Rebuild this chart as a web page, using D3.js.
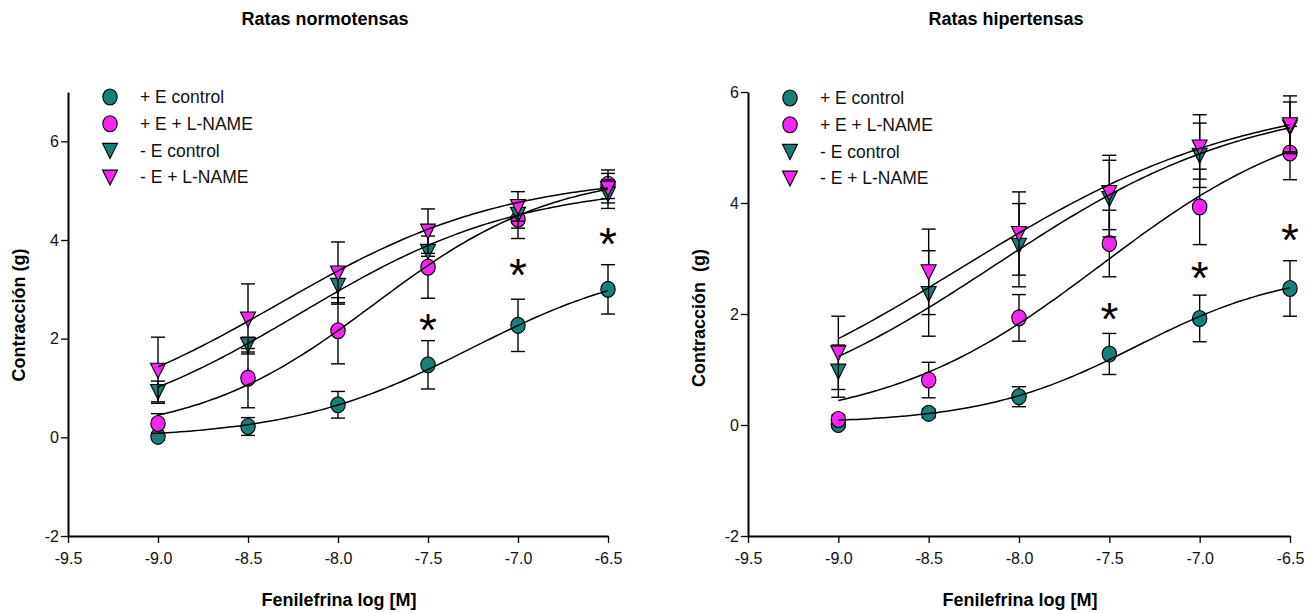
<!DOCTYPE html>
<html><head><meta charset="utf-8">
<script src="https://cdn.jsdelivr.net/npm/d3@7"></script>
<style>body{margin:0;background:#fff}svg{display:block}</style>
</head><body><svg id="c" width="1314" height="613"></svg>
<script>
// ---------------- data ----------------
const doses = [-9.0, -8.5, -8.0, -7.5, -7.0, -6.5];
const seriesNames = ["+ E control", "+ E + L-NAME", "- E control", "- E + L-NAME"];
const xTicks = [-9.5, -9.0, -8.5, -8.0, -7.5, -7.0, -6.5];
const yTicks = [-2, 0, 2, 4, 6];

// Ratas normotensas (means, SEM)
const normEC     = [0.02, 0.22, 0.66, 1.47, 2.27, 3.00];
const normEC_e   = [0.06, 0.18, 0.27, 0.49, 0.53, 0.50];
const normEL     = [0.28, 1.20, 2.16, 3.45, 4.42, 5.13];
const normEL_e   = [0.20, 0.60, 0.67, 0.63, 0.39, 0.29];
const normSC     = [0.93, 1.88, 3.08, 3.77, 4.52, 4.93];
const normSC_e   = [0.21, 0.15, 0.35, 0.10, 0.28, 0.29];
const normSL     = [1.36, 2.40, 3.33, 4.18, 4.68, 5.05];
const normSL_e   = [0.67, 0.71, 0.63, 0.45, 0.30, 0.30];
// fitted-curve values read at each dose
const normFitEC  = [0.07, 0.27, 0.66, 1.36, 2.28, 2.97];
const normFitEL  = [0.44, 1.09, 2.14, 3.50, 4.49, 5.03];
const normFitSC  = [1.02, 1.90, 2.96, 3.90, 4.49, 4.85];
const normFitSL  = [1.43, 2.35, 3.37, 4.24, 4.73, 5.07];
const normStarDoses = [-7.5, -7.0, -6.5];
const normStarY     = [2.38, 3.50, 4.13];

// Ratas hipertensas (means, SEM)
const hipEC     = [0.01, 0.21, 0.51, 1.28, 1.92, 2.46];
const hipEC_e   = [0.05, 0.08, 0.18, 0.37, 0.42, 0.50];
const hipEL     = [0.10, 0.81, 1.93, 3.27, 3.93, 4.90];
const hipEL_e   = [0.08, 0.32, 0.42, 0.60, 0.68, 0.48];
const hipSC     = [0.97, 2.37, 3.24, 4.08, 4.86, 5.37];
const hipSC_e   = [0.47, 0.77, 0.75, 0.69, 0.58, 0.45];
const hipSL     = [1.30, 2.76, 3.45, 4.19, 5.01, 5.41];
const hipSL_e   = [0.66, 0.77, 0.75, 0.67, 0.58, 0.52];
// fitted-curve values read at each dose
const hipFitEC  = [0.09, 0.21, 0.51, 1.20, 1.94, 2.48];
const hipFitEL  = [0.45, 0.93, 1.86, 2.97, 4.14, 4.93];
const hipFitSC  = [1.24, 2.10, 3.18, 4.14, 4.88, 5.36];
const hipFitSL  = [1.56, 2.46, 3.48, 4.32, 4.98, 5.41];
const hipStarDoses = [-7.5, -7.0, -6.5];
const hipStarY     = [2.09, 2.83, 3.51];

// ---------------- styles ----------------
const TEAL = "#167f78", MAG = "#f327f0";
const seriesStyle = [
  {shape: "circle", color: TEAL},
  {shape: "circle", color: MAG},
  {shape: "tri", color: TEAL},
  {shape: "tri", color: MAG}
];
const FONT = "Liberation Sans, Arial, sans-serif";

// ---------------- 4PL smoothing fit (Nelder–Mead) ----------------
function logistic(p, x) { return p[0] + (p[1] - p[0]) / (1 + Math.pow(10, (p[2] - x) * p[3])); }
function nelderMead(f, x0, steps, iters) {
  const n = x0.length;
  let S = [x0.slice()];
  for (let i = 0; i < n; i++) { const p = x0.slice(); p[i] += steps[i]; S.push(p); }
  let F = S.map(f);
  for (let k = 0; k < iters; k++) {
    const idx = d3.range(n + 1).sort((a, b) => F[a] - F[b]);
    S = idx.map(i => S[i]); F = idx.map(i => F[i]);
    const c = d3.range(n).map(j => d3.mean(S.slice(0, n), p => p[j]));
    const w = S[n];
    const xr = c.map((v, j) => v + (v - w[j])); const fr = f(xr);
    if (fr < F[0]) {
      const xe = c.map((v, j) => v + 2 * (v - w[j])); const fe = f(xe);
      if (fe < fr) { S[n] = xe; F[n] = fe; } else { S[n] = xr; F[n] = fr; }
    } else if (fr < F[n - 1]) { S[n] = xr; F[n] = fr; }
    else {
      const xc = c.map((v, j) => v + 0.5 * (w[j] - v)); const fc = f(xc);
      if (fc < F[n]) { S[n] = xc; F[n] = fc; }
      else {
        for (let i = 1; i <= n; i++) { S[i] = S[i].map((v, j) => S[0][j] + 0.5 * (v - S[0][j])); F[i] = f(S[i]); }
      }
    }
  }
  return S[d3.minIndex(F)];
}
function fit(ys) {
  const sse = p => {
    if (p[3] <= 0.05 || p[3] > 5) return 1e9;
    return d3.sum(doses, (x, i) => (logistic(p, x) - ys[i]) ** 2);
  };
  let p = [d3.min(ys) - 0.1, d3.max(ys) + 0.5, -7.75, 0.8];
  for (let r = 0; r < 4; r++) p = nelderMead(sse, p, [0.3, 0.5, 0.3, 0.2], 1500);
  return p;
}

// ---------------- drawing ----------------
const svg = d3.select("#c");
svg.append("rect").attr("width", 1314).attr("height", 613).attr("fill", "#fff");

function drawMarker(g, st, cx, cy) {
  if (st.shape === "circle") {
    g.append("ellipse").attr("cx", cx).attr("cy", cy).attr("rx", 7.2).attr("ry", 8)
      .attr("fill", st.color).attr("stroke", "#000").attr("stroke-width", 1.1);
  } else {
    g.append("path").attr("d", `M${cx - 7.5},${cy - 7}L${cx + 7.5},${cy - 7}L${cx},${cy + 8}Z`)
      .attr("fill", st.color).attr("stroke", "#000").attr("stroke-width", 1.1);
  }
}

function panel(cfg) {
  const x = d3.scaleLinear().domain([-9.5, -6.5]).range([cfg.x0, cfg.x1]);
  const y = d3.scaleLinear().domain([-2, cfg.yMax]).range([536, 92]);
  const g = svg.append("g");

  const ax = g.append("g").attr("transform", "translate(0,536)")
    .call(d3.axisBottom(x).tickValues(xTicks).tickSize(7).tickSizeOuter(0).tickFormat(d => d.toFixed(1)));
  const ay = g.append("g").attr("transform", `translate(${cfg.x0},0)`)
    .call(d3.axisLeft(y).tickValues(yTicks).tickSize(7).tickSizeOuter(0).tickFormat(d => String(d)));
  [ax, ay].forEach(a => {
    a.select(".domain").attr("stroke", "#000").attr("stroke-width", 2);
    a.selectAll(".tick line").attr("stroke", "#000").attr("stroke-width", 1.3);
    a.selectAll(".tick text").attr("fill", "#111").attr("font-family", FONT).attr("font-size", 16);
  });
  ax.selectAll(".tick text").attr("dy", "1.15em");
  ay.selectAll(".tick text").attr("x", -9);

  g.append("text").attr("x", cfg.titleX).attr("y", 25).attr("text-anchor", "middle")
    .attr("font-family", FONT).attr("font-weight", "bold").attr("font-size", 18).text(cfg.title);
  g.append("text").attr("x", (cfg.x0 + cfg.x1) / 2 + 1).attr("y", 606).attr("text-anchor", "middle")
    .attr("font-family", FONT).attr("font-weight", "bold").attr("font-size", 18).text("Fenilefrina log [M]");
  g.append("text").attr("transform", `translate(${cfg.x0 - 43},${cfg.ylabY}) rotate(-90)`).attr("text-anchor", "middle")
    .attr("font-family", FONT).attr("font-weight", "bold").attr("font-size", 18).attr("xml:space", "preserve").text(cfg.ylab);

  cfg.series.forEach((s, si) => {
    const st = seriesStyle[si];
    const sg = g.append("g");
    doses.forEach((d, i) => {
      const cx = x(d), top = y(s.v[i] + s.e[i]), bot = y(s.v[i] - s.e[i]);
      sg.append("line").attr("x1", cx).attr("x2", cx).attr("y1", top).attr("y2", bot).attr("stroke", "#000").attr("stroke-width", 1.4);
      [top, bot].forEach(yy => sg.append("line").attr("x1", cx - 7).attr("x2", cx + 7).attr("y1", yy).attr("y2", yy).attr("stroke", "#000").attr("stroke-width", 1.4));
    });
    doses.forEach((d, i) => drawMarker(sg, st, x(d), y(s.v[i])));
  });

  const xs = d3.range(0, 101).map(k => -9.0 + 2.5 * k / 100);
  cfg.series.forEach(s => {
    const p = fit(s.f);
    g.append("path").datum(xs).attr("fill", "none").attr("stroke", "#000").attr("stroke-width", 1.5)
      .attr("d", d3.line().x(d => x(d)).y(d => y(logistic(p, d))));
  });

  cfg.starDoses.forEach((d, i) => {
    g.append("text").attr("x", x(d)).attr("y", y(cfg.starY[i]) + 26).attr("text-anchor", "middle")
      .attr("font-family", FONT).attr("font-size", 46).text("*");
  });

  seriesNames.forEach((nm, i) => {
    const ly = cfg.legY + i * 26.7;
    drawMarker(g, seriesStyle[i], cfg.legX, ly);
    g.append("text").attr("x", cfg.legX + 30).attr("y", ly).attr("dy", "0.36em")
      .attr("font-family", FONT).attr("font-size", 17.5).attr("fill", "#111").text(nm);
  });
}

panel({
  x0: 68, x1: 608, yMax: 7, title: "Ratas normotensas", titleX: 325,
  ylab: "Contracción (g)", ylabY: 315, legX: 110, legY: 97,
  series: [
    {v: normEC, e: normEC_e, f: normFitEC}, {v: normEL, e: normEL_e, f: normFitEL},
    {v: normSC, e: normSC_e, f: normFitSC}, {v: normSL, e: normSL_e, f: normFitSL}],
  starDoses: normStarDoses, starY: normStarY
});
panel({
  x0: 748, x1: 1290, yMax: 6, title: "Ratas hipertensas", titleX: 1006,
  ylab: "Contracción  (g)", ylabY: 318, legX: 790, legY: 98,
  series: [
    {v: hipEC, e: hipEC_e, f: hipFitEC}, {v: hipEL, e: hipEL_e, f: hipFitEL},
    {v: hipSC, e: hipSC_e, f: hipFitSC}, {v: hipSL, e: hipSL_e, f: hipFitSL}],
  starDoses: hipStarDoses, starY: hipStarY
});
</script></body></html>
